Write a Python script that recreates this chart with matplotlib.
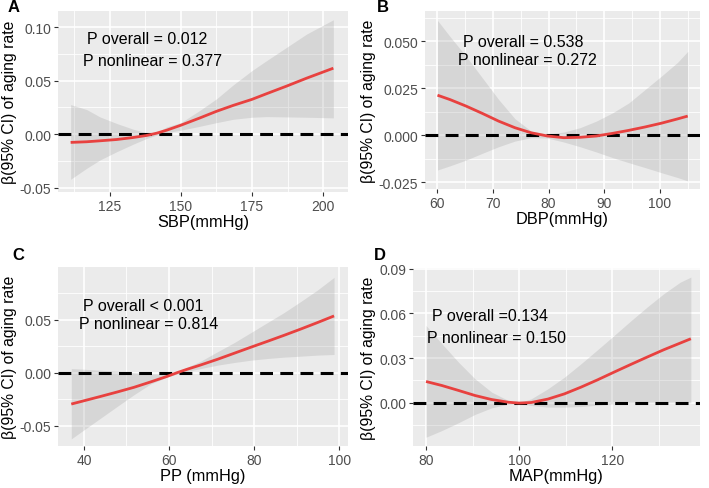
import matplotlib.pyplot as plt

plt.rcParams['font.family'] = ['Liberation Sans', 'DejaVu Sans']

# panel A: SBP
sbp_x = [111.15, 116.78, 121.48, 127.35, 133.22, 137.91, 141.43, 144.95, 150.0,
         156.69, 162.56, 168.43, 175.0, 180.16, 187.21, 194.25, 203.64]
sbp_fit = [-0.0077, -0.0071, -0.0062, -0.0050, -0.0031, -0.0012, 0.0009, 0.0037, 0.0084,
           0.0152, 0.0214, 0.0269, 0.0325, 0.0378, 0.0449, 0.0523, 0.0616]
sbp_hi = [0.0276, 0.0230, 0.0161, 0.0100, 0.0046, 0.0012, 0.0015, 0.0068, 0.0108,
          0.0223, 0.0331, 0.0461, 0.0594, 0.0687, 0.0811, 0.0935, 0.1068]
sbp_lo = [-0.0421, -0.0319, -0.0241, -0.0164, -0.0093, -0.0040, -0.0009, 0.0015, 0.0037,
          0.0074, 0.0108, 0.0139, 0.0158, 0.0164, 0.0161, 0.0158, 0.0152]

# panel B: DBP
dbp_x = [60.0, 62.23, 65.15, 68.08, 71.01, 73.94, 76.87, 79.79, 82.72,
         85.65, 88.58, 91.51, 94.44, 97.36, 100.29, 103.22, 105.04]
dbp_fit = [0.0212, 0.0189, 0.0154, 0.0115, 0.0074, 0.0039, 0.0012, -0.0005, -0.0014,
           -0.0012, -0.0005, 0.0009, 0.0025, 0.0043, 0.0063, 0.0086, 0.0101]
dbp_hi = [0.0610, 0.0525, 0.0419, 0.0304, 0.0189, 0.0087, 0.0021, 0.0004, 0.0016,
          0.0039, 0.0074, 0.0118, 0.0171, 0.0242, 0.0313, 0.0387, 0.0445]
dbp_lo = [-0.0186, -0.0164, -0.0133, -0.0097, -0.0062, -0.0032, -0.0014, -0.0016, -0.0037,
          -0.0062, -0.0090, -0.0120, -0.0147, -0.0173, -0.0200, -0.0226, -0.0244]

# panel C: PP
pp_x = [37.02, 40.0, 43.92, 47.84, 51.76, 55.69, 59.61, 61.96, 64.31,
        67.45, 71.37, 75.29, 79.22, 83.14, 87.06, 90.98, 94.90, 98.82]
pp_fit = [-0.0294, -0.0263, -0.0222, -0.0180, -0.0136, -0.0085, -0.0032, 0.0003, 0.0035,
          0.0075, 0.0128, 0.0185, 0.0242, 0.0298, 0.0355, 0.0414, 0.0475, 0.0538]
pp_hi = [0.0041, 0.0035, 0.0025, 0.0016, 0.0003, -0.0009, -0.0016, 0.0009, 0.0054,
         0.0111, 0.0199, 0.0285, 0.0380, 0.0475, 0.0570, 0.0674, 0.0782, 0.0902]
pp_lo = [-0.0623, -0.0538, -0.0427, -0.0316, -0.0206, -0.0104, -0.0038, -0.0009, 0.0016,
         0.0041, 0.0073, 0.0098, 0.0120, 0.0136, 0.0149, 0.0158, 0.0168, 0.0174]

# panel D: MAP
map_x = [80.0, 83.41, 86.96, 90.51, 94.07, 97.62, 99.96, 102.59, 106.15,
         109.70, 113.25, 116.80, 120.36, 123.91, 127.46, 131.01, 134.56, 136.84]
map_fit = [0.0143, 0.0116, 0.0083, 0.0049, 0.0022, 0.0004, -0.0002, 0.0002, 0.0025,
           0.0060, 0.0105, 0.0154, 0.0206, 0.0257, 0.0307, 0.0356, 0.0401, 0.0430]
map_hi = [0.0519, 0.0396, 0.0273, 0.0161, 0.0072, 0.0016, 0.0000, 0.0027, 0.0094,
          0.0172, 0.0262, 0.0356, 0.0452, 0.0549, 0.0643, 0.0732, 0.0810, 0.0844]
map_lo = [-0.0231, -0.0186, -0.0134, -0.0078, -0.0034, -0.0009, -0.0004, -0.0018, -0.0029,
          -0.0029, -0.0025, -0.0016, -0.0007, -0.0002, 0.0, 0.0, 0.0, 0.0]

panels = [
    dict(tag='A', x=sbp_x, fit=sbp_fit, hi=sbp_hi, lo=sbp_lo, xlabel='SBP(mmHg)',
         xlim=(106.7, 208.8), ylim=(-0.054, 0.115),
         xticks=[125, 150, 175, 200], yticks=[-0.05, 0.0, 0.05, 0.10],
         yfmt='{:.2f}', xminor=[112.5, 137.5, 162.5, 187.5], yminor=[-0.025, 0.025, 0.075],
         notes=[(116.9, 0.089, 'P overall = 0.012'), (115.5, 0.0685, 'P nonlinear = 0.377')],
         pos=(58, 12, 348, 193), tagpos=(8, 7)),
    dict(tag='B', x=dbp_x, fit=dbp_fit, hi=dbp_hi, lo=dbp_lo, xlabel='DBP(mmHg)',
         xlim=(57.75, 107.25), ylim=(-0.0287, 0.066),
         xticks=[60, 70, 80, 90, 100], yticks=[-0.025, 0.0, 0.025, 0.05],
         yfmt='{:.3f}', xminor=[65, 75, 85, 95, 105], yminor=[-0.0125, 0.0125, 0.0375, 0.0625],
         notes=[(64.6, 0.050, 'P overall = 0.538'), (63.7, 0.040, 'P nonlinear = 0.272')],
         pos=(425, 12, 700, 190), tagpos=(377, 7)),
    dict(tag='C', x=pp_x, fit=pp_fit, hi=pp_hi, lo=pp_lo, xlabel='PP (mmHg)',
         xlim=(33.9, 102.1), ylim=(-0.069, 0.10),
         xticks=[40, 60, 80, 100], yticks=[-0.05, 0.0, 0.05],
         yfmt='{:.2f}', xminor=[50, 70, 90], yminor=[-0.025, 0.025, 0.075],
         notes=[(39.8, 0.064, 'P overall < 0.001'), (38.8, 0.047, 'P nonlinear = 0.814')],
         pos=(58, 268, 348, 447), tagpos=(12, 255)),
    dict(tag='D', x=map_x, fit=map_fit, hi=map_hi, lo=map_lo, xlabel='MAP(mmHg)',
         xlim=(77.2, 138.8), ylim=(-0.029, 0.0905),
         xticks=[80, 100, 120], yticks=[0.0, 0.03, 0.06, 0.09],
         yfmt='{:.2f}', xminor=[90, 110, 130], yminor=[-0.015, 0.015, 0.045, 0.075],
         notes=[(81.3, 0.0587, 'P overall =0.134'), (80.2, 0.044, 'P nonlinear = 0.150')],
         pos=(413, 269, 700, 447), tagpos=(374, 255)),
]

W, H = 709, 489
fig = plt.figure(figsize=(W / 100, H / 100), dpi=100)

for p in panels:
    l, t, r, b = p['pos']
    ax = fig.add_axes([l / W, 1 - b / H, (r - l) / W, (b - t) / H])
    ax.set_facecolor('#EBEBEB')
    for s in ax.spines.values():
        s.set_visible(False)

    # ggplot-like grid
    for v in p['xminor']:
        ax.axvline(v, color='white', lw=0.6, zorder=0)
    for v in p['yminor']:
        ax.axhline(v, color='white', lw=0.6, zorder=0)
    for v in p['xticks']:
        ax.axvline(v, color='white', lw=1.2, zorder=0)
    for v in p['yticks']:
        ax.axhline(v, color='white', lw=1.2, zorder=0)

    ax.fill_between(p['x'], p['lo'], p['hi'], color='#999999', alpha=0.25, lw=0, zorder=1)
    ax.axhline(0, color='black', lw=2.2, dashes=(4.2, 2.4), zorder=2)
    ax.plot(p['x'], p['fit'], color='#E8413F', lw=2, zorder=3, solid_capstyle='butt')

    ax.set_xlim(p['xlim'])
    ax.set_ylim(p['ylim'])
    ax.set_xticks(p['xticks'])
    ax.set_yticks(p['yticks'])
    ax.set_yticklabels([p['yfmt'].format(v) for v in p['yticks']])
    ax.tick_params(colors='#333333', labelcolor='#4D4D4D', labelsize=10,
                   length=3, width=0.8, pad=2)

    ax.set_xlabel(p['xlabel'], fontsize=11.8, labelpad=1)
    ax.set_ylabel('β(95% CI) of aging rate', fontsize=11.3, labelpad=2)

    for nx, ny, txt in p['notes']:
        ax.text(nx, ny, txt, fontsize=11.5, ha='left', va='center', zorder=4)

    tx, ty = p['tagpos']
    fig.text(tx / W, 1 - ty / H, p['tag'], fontsize=12, fontweight='bold',
             ha='left', va='center')

fig.savefig('out.png', dpi=100)
